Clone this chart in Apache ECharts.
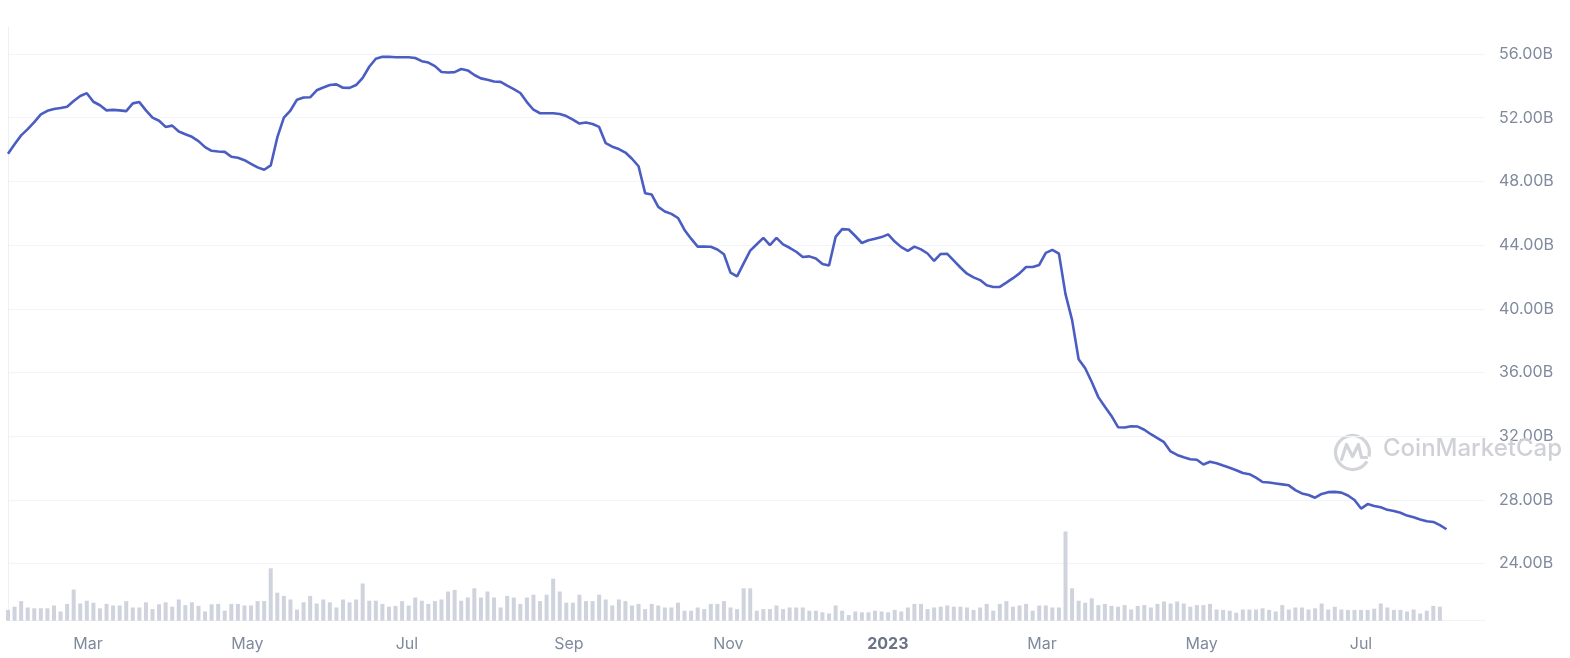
<!DOCTYPE html>
<html>
<head>
<meta charset="utf-8">
<script src="https://cdn.jsdelivr.net/npm/echarts@6/dist/echarts.min.js"></script>
<style>
html,body{margin:0;padding:0;background:#ffffff;}
#chart{width:1570px;height:658px;}
</style>
</head>
<body>
<div id="chart"></div>
<script>
// Market cap (billions USD), one value per sample
const marketCapB = [
49.73,50.33,50.89,51.28,51.72,52.21,52.43,52.54,52.61,52.69,
53.05,53.36,53.54,53.00,52.78,52.46,52.49,52.46,52.41,52.90,
52.98,52.46,52.00,51.81,51.42,51.50,51.13,50.96,50.80,50.53,
50.15,49.92,49.88,49.85,49.55,49.48,49.33,49.10,48.88,48.73,
49.00,50.76,52.00,52.45,53.13,53.27,53.28,53.72,53.90,54.05,
54.09,53.88,53.87,54.05,54.50,55.20,55.70,55.82,55.83,55.80,
55.80,55.80,55.75,55.55,55.46,55.24,54.87,54.84,54.86,55.06,
54.97,54.68,54.47,54.38,54.27,54.25,54.02,53.80,53.55,52.98,
52.50,52.28,52.28,52.28,52.23,52.10,51.88,51.63,51.70,51.60,
51.42,50.40,50.18,50.03,49.81,49.42,48.95,47.26,47.17,46.40,
46.11,45.96,45.70,44.95,44.40,43.90,43.90,43.89,43.72,43.42,
42.27,42.03,42.85,43.65,44.05,44.45,44.00,44.45,44.04,43.83,
43.58,43.25,43.29,43.16,42.81,42.72,44.51,45.00,44.98,44.57,
44.13,44.30,44.40,44.50,44.67,44.22,43.87,43.63,43.90,43.73,
43.47,43.00,43.44,43.45,43.02,42.59,42.20,41.97,41.80,41.47,
41.37,41.37,41.64,41.92,42.22,42.62,42.62,42.75,43.51,43.70,
43.46,40.92,39.30,36.83,36.26,35.40,34.45,33.85,33.27,32.56,
32.54,32.62,32.60,32.40,32.12,31.87,31.62,31.04,30.82,30.67,
30.55,30.52,30.22,30.39,30.30,30.15,30.01,29.86,29.68,29.61,
29.39,29.12,29.09,29.03,28.97,28.91,28.61,28.40,28.30,28.13,
28.37,28.48,28.50,28.45,28.27,27.99,27.45,27.73,27.61,27.53,
27.37,27.30,27.19,27.01,26.90,26.76,26.65,26.61,26.41,26.15
];

// Volume (billions USD), one value per sample
const volumeB = [
2.7,3.5,4.9,3.3,3.1,3.1,3.1,3.8,2.3,4.2,
7.8,4.3,5.0,4.5,3.1,4.2,3.8,3.8,4.9,3.3,
3.3,4.6,2.9,4.1,4.6,3.5,5.3,3.9,4.6,3.7,
2.3,4.1,4.2,2.5,4.2,4.2,3.8,3.8,4.9,4.9,
13.1,7.0,6.2,5.3,2.8,4.6,6.2,4.3,5.3,4.6,
3.3,5.3,4.6,5.3,9.3,5.0,5.0,4.2,3.5,3.7,
4.9,3.8,5.8,5.0,4.2,4.9,5.3,7.3,7.7,5.0,
5.8,8.1,5.8,7.3,5.8,3.3,6.2,5.8,4.2,5.8,
6.5,4.9,6.5,10.5,7.3,4.5,4.5,6.5,4.9,4.9,
6.5,5.3,3.8,5.3,4.9,3.8,4.2,2.9,4.2,3.8,
3.3,3.3,4.5,2.5,2.5,3.3,2.9,4.2,4.2,4.9,
3.3,2.9,8.1,8.1,2.5,2.9,2.9,3.8,2.9,3.3,
3.3,3.3,2.5,2.5,2.1,1.8,3.8,2.5,1.4,2.3,
2.1,2.1,2.5,2.3,2.1,2.7,2.3,3.3,4.2,4.2,
2.9,3.3,3.5,3.8,3.5,3.5,3.3,2.7,3.3,4.2,
2.5,4.2,4.9,3.5,3.8,4.2,2.5,3.8,3.8,3.3,
3.3,22.3,8.1,5.0,4.5,5.6,3.9,4.2,3.7,3.5,
3.9,2.8,3.7,3.9,3.3,4.2,4.8,4.3,4.8,4.3,
3.5,3.9,3.9,4.2,2.8,2.7,2.5,2.0,2.8,2.8,
2.8,3.1,2.7,2.3,3.9,2.8,3.3,3.3,2.8,3.1,
4.3,2.8,3.5,2.8,2.7,2.7,2.7,2.7,3.0,4.3,
3.3,2.7,2.7,2.3,2.8,1.8,2.5,3.7,3.5
];

// Sampling: first sample time and cadence (days between samples)
const firstSample = Date.UTC(2022, 0, 29, 9, 22);
const sampleStepDays = 2.5128;
const axisStart = Date.UTC(2022, 0, 29, 9, 22);
const axisEnd = Date.UTC(2023, 7, 17, 10, 34);

// X tick labels
const xTickDates = ['2022-03-01','2022-05-01','2022-07-01','2022-09-01','2022-11-01','2023-01-01','2023-03-01','2023-05-01','2023-07-01'];
const xTickLabels = ['Mar','May','Jul','Sep','Nov','2023','Mar','May','Jul'];

// Y axis (billions)
const yMin = 24, yMax = 56, yStep = 4;

const DAY = 86400000;
const sampleTimes = marketCapB.map((_, i) => firstSample + i * sampleStepDays * DAY);
const xTickTimes = xTickDates.map(d => { const p = d.split('-'); return Date.UTC(+p[0], +p[1]-1, +p[2]); });

const lineData = marketCapB.map((v, i) => [sampleTimes[i], v]);
const barData = volumeB.map((v, i) => [sampleTimes[i], v]);

const FONT = 'Inter, "Noto Sans", sans-serif';
const chart = echarts.init(document.getElementById('chart'), null, {renderer: 'canvas'});

chart.setOption({
  animation: false,
  backgroundColor: '#ffffff',
  grid: [
    {left: 8, right: 85, top: 54, bottom: 94.5},
    {left: 8, right: 85, top: 520.7, bottom: 37.3},
    {left: 8, right: 85, top: 27, bottom: 37.3}
  ],
  xAxis: [
    {type: 'value', gridIndex: 0, min: axisStart, max: axisEnd, show: false, splitLine: {show: false}},
    {
      type: 'value', gridIndex: 1, min: axisStart, max: axisEnd,
      axisLine: {show: true, lineStyle: {color: '#f1f2f5', width: 1}},
      axisTick: {show: false},
      splitLine: {show: false},
      axisLabel: {
        customValues: xTickTimes,
        margin: 15,
        fontFamily: FONT,
        fontSize: 16,
        color: '#808A9D',
        formatter: function (val) {
          let best = 0, bd = Infinity;
          xTickTimes.forEach((t, k) => { const d = Math.abs(t - val); if (d < bd) { bd = d; best = k; } });
          const lab = xTickLabels[best];
          return /^\d{4}$/.test(lab) ? '{yr|' + lab + '}' : lab;
        },
        rich: {yr: {fontFamily: FONT, fontSize: 16, fontWeight: 'bold', color: '#6b7385'}}
      }
    },
    {type: 'value', gridIndex: 2, min: 0, max: 1, show: false, splitLine: {show: false}}
  ],
  yAxis: [
    {
      type: 'value', gridIndex: 0, position: 'right',
      min: yMin, max: yMax, interval: yStep,
      axisLine: {show: false}, axisTick: {show: false},
      splitLine: {show: true, lineStyle: {color: '#f3f4f7', width: 1}},
      axisLabel: {
        margin: 14, fontFamily: FONT, fontSize: 16, color: '#808A9D',
        formatter: v => v.toFixed(2) + 'B'
      }
    },
    {type: 'value', gridIndex: 1, min: 0, max: 25, show: false, splitLine: {show: false}},
    {
      type: 'value', gridIndex: 2, position: 'right', min: 0, max: 1,
      axisLine: {show: true, lineStyle: {color: '#eef0f4', width: 1}},
      axisTick: {show: false}, axisLabel: {show: false}, splitLine: {show: false}
    }
  ],
  graphic: [
    {
      type: 'group', left: 1333, top: 433, silent: true, z: 1,
      children: [
        {type: 'arc', shape: {cx: 19, cy: 19, r: 17, startAngle: 0.55, endAngle: 0.25 + Math.PI * 2}, style: {stroke: '#d2d4d9', lineWidth: 3.2, fill: 'none'}},
        {type: 'polyline', shape: {points: [[8, 26], [13, 11], [19, 23], [25, 11], [28, 24], [33, 24]]}, style: {stroke: '#d2d4d9', lineWidth: 3.2, fill: 'none', lineJoin: 'round', lineCap: 'round'}}
      ]
    },
    {
      type: 'text', left: 1383, top: 437, silent: true, z: 1,
      style: {text: 'CoinMarketCap', fontFamily: FONT, fontSize: 24, fontWeight: 500, fill: '#cfd1d6'}
    }
  ],
  series: [
    {
      type: 'bar', xAxisIndex: 1, yAxisIndex: 1, data: barData,
      barWidth: 4, itemStyle: {color: '#cfd3dd'}, silent: true
    },
    {
      type: 'line', xAxisIndex: 0, yAxisIndex: 0, data: lineData,
      showSymbol: false, symbol: 'none', smooth: false,
      lineStyle: {color: '#4b5dc2', width: 2.6}, z: 3
    }
  ]
});
</script>
</body>
</html>
